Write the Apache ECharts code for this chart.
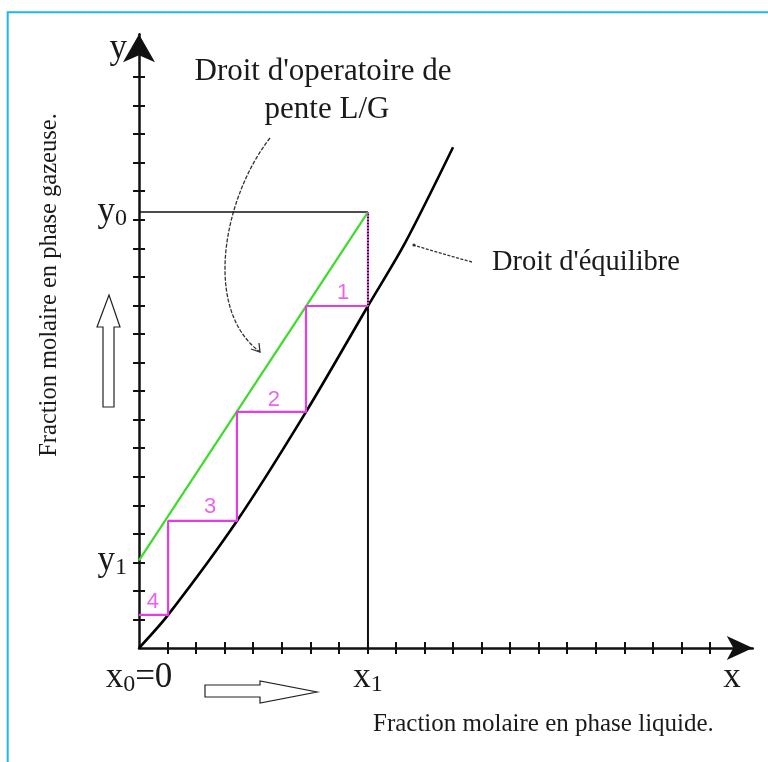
<!DOCTYPE html>
<html>
<head>
<meta charset="utf-8">
<script src="https://cdn.jsdelivr.net/npm/echarts@6/dist/echarts.min.js"></script>
<style>
html,body{margin:0;padding:0;background:#fff;}
#chart{width:768px;height:762px;}
</style>
</head>
<body>
<div id="chart"></div>
<script>
// ---- data (in tick units) ----
const xTicks = [1,2,3,4,5,6,7,8,9,10,11,12,13,14,15,16,17,18,19,20];
const yTicks = [1,2,3,4,5,6,7,8,9,10,11,12,13,14,15,16,17,18,19,20];
const xLabelPos = [0, 8.02, 20.77];
const xLabels = ['{m|x}{s|0}{m|=0}', '{m|x}{s|1}', '{m|x}'];
const yLabelPos = [3.07, 15.27, 21];
const yLabels = ['{m|y}{s|1}', '{m|y}{s|0}', '{m|y}'];

const x1 = 8.02;
const y0 = 15.27;
const y1 = 3.07;

const eqX = [0, 1.02, 3.43, 5.85, 8.02, 9.32, 11.0];
const eqY = [0, 1.16, 4.45, 8.27, 11.98, 14.19, 17.54];

const stairX = [8.02, 5.85, 5.85, 3.43, 3.43, 1.02, 1.02, 0];
const stairY = [11.98, 11.98, 8.27, 8.27, 4.45, 4.45, 1.16, 1.16];

const stepLblX = [7.15, 4.72, 2.49, 0.49];
const stepLblY = [12.43, 8.69, 4.94, 1.61];
const stepLbl = ['1', '2', '3', '4'];

// ---- chart ----
const zip = (a, b) => a.map((v, i) => [v, b[i]]);
const SERIF = '"Liberation Serif", "Times New Roman", serif';
const TXT = '#1a1a1a';
const MAG = '#e63ce6';

const rich = {
  m: {fontSize: 35, fontFamily: SERIF, color: TXT, lineHeight: 40},
  s: {fontSize: 24, fontFamily: SERIF, color: TXT, lineHeight: 24, padding: [14, 0, 0, 0]}
};

const chart = echarts.init(document.getElementById('chart'), null, {renderer: 'canvas'});

const baseAxis = {
  type: 'value', min: 0, max: 21.5,
  splitLine: {show: false}
};

const option = {
  animation: false,
  backgroundColor: '#ffffff',
  grid: {left: 139, top: 34.2, right: 15.2, bottom: 114, containLabel: false},
  xAxis: [
    Object.assign({}, baseAxis, {
      position: 'bottom',
      axisLine: {show: true, onZero: false, symbol: ['none', 'arrow'], symbolSize: [18, 26],
        lineStyle: {color: '#111', width: 2.5}},
      axisTick: {show: true, customValues: xTicks, length: 6, lineStyle: {color: '#111', width: 2}},
      axisLabel: {show: true, customValues: xLabelPos, margin: 10, showMinLabel: true, showMaxLabel: true,
        formatter: v => { const i = xLabelPos.findIndex(p => Math.abs(p - v) < 1e-6); return i < 0 ? '' : xLabels[i]; },
        rich: rich}
    }),
    Object.assign({}, baseAxis, {
      position: 'bottom',
      axisLine: {show: false, onZero: false},
      axisTick: {show: true, inside: true, customValues: xTicks, length: 6, lineStyle: {color: '#111', width: 2}},
      axisLabel: {show: false}
    })
  ],
  yAxis: [
    Object.assign({}, baseAxis, {
      position: 'left',
      axisLine: {show: true, onZero: false, symbol: ['none', 'arrow'], symbolSize: [24, 28],
        lineStyle: {color: '#111', width: 2.5}},
      axisTick: {show: true, customValues: yTicks, length: 6, lineStyle: {color: '#111', width: 2}},
      axisLabel: {show: true, customValues: yLabelPos, margin: 12, showMinLabel: true, showMaxLabel: true,
        formatter: v => { const i = yLabelPos.findIndex(p => Math.abs(p - v) < 1e-6); return i < 0 ? '' : yLabels[i]; },
        rich: rich}
    }),
    Object.assign({}, baseAxis, {
      position: 'left',
      axisLine: {show: false, onZero: false},
      axisTick: {show: true, inside: true, customValues: yTicks, length: 6, lineStyle: {color: '#111', width: 2}},
      axisLabel: {show: false}
    })
  ],
  series: [
    { // y0 horizontal guide
      type: 'line', xAxisIndex: 0, yAxisIndex: 0, symbol: 'none',
      data: [[0, y0], [x1, y0]],
      lineStyle: {color: '#111', width: 1.6}, z: 2
    },
    { // x1 vertical guide
      type: 'line', xAxisIndex: 0, yAxisIndex: 0, symbol: 'none',
      data: [[x1, 0], [x1, y0]],
      lineStyle: {color: '#111', width: 2}, z: 2
    },
    { // equilibrium curve
      type: 'line', xAxisIndex: 0, yAxisIndex: 0, symbol: 'none', smooth: 0.3,
      data: zip(eqX, eqY),
      lineStyle: {color: '#000', width: 2.6}, z: 3
    },
    { // operating line
      type: 'line', xAxisIndex: 0, yAxisIndex: 0, symbol: 'none',
      data: [[0, y1], [x1, y0]],
      lineStyle: {color: '#3ddc2a', width: 2.2}, z: 4
    },
    { // staircase
      type: 'line', xAxisIndex: 0, yAxisIndex: 0, symbol: 'none',
      data: zip(stairX, stairY),
      lineStyle: {color: MAG, width: 2.2}, z: 5
    },
    { // dotted top vertical
      type: 'line', xAxisIndex: 0, yAxisIndex: 0, symbol: 'none',
      data: [[x1, y0], [x1, stairY[0]]],
      lineStyle: {color: MAG, width: 2, type: [2, 1]}, z: 5
    },
    { // step numbers
      type: 'scatter', xAxisIndex: 0, yAxisIndex: 0, symbolSize: 0,
      data: stepLbl.map((t, i) => ({value: [stepLblX[i], stepLblY[i]], name: t})),
      label: {show: true, position: 'inside', formatter: p => p.name,
        fontSize: 22, fontFamily: '"Liberation Sans", Arial, sans-serif', color: MAG},
      z: 6
    }
  ],
  graphic: [
    { // border
      type: 'rect', silent: true,
      shape: {x: 7.7, y: 12.3, width: 900, height: 900},
      style: {fill: 'none', stroke: '#1fb6f0', lineWidth: 2}
    },
    {
      type: 'text', silent: true,
      style: {text: "Droit d'operatoire de", x: 323, y: 72, align: 'center', verticalAlign: 'middle',
        fontSize: 31, fontFamily: SERIF, fill: TXT}
    },
    {
      type: 'text', silent: true,
      style: {text: 'pente L/G', x: 327, y: 110, align: 'center', verticalAlign: 'middle',
        fontSize: 31, fontFamily: SERIF, fill: TXT}
    },
    {
      type: 'text', silent: true,
      style: {text: "Droit d'équilibre", x: 492, y: 263, align: 'left', verticalAlign: 'middle',
        fontSize: 28.5, fontFamily: SERIF, fill: TXT}
    },
    {
      type: 'text', silent: true,
      style: {text: 'Fraction molaire en phase liquide.', x: 373, y: 724, align: 'left', verticalAlign: 'middle',
        fontSize: 25, fontFamily: SERIF, fill: TXT}
    },
    {
      type: 'text', silent: true, x: 50, y: 285, rotation: Math.PI / 2,
      style: {text: 'Fraction molaire en phase gazeuse.', x: 0, y: 0, align: 'center', verticalAlign: 'middle',
        fontSize: 24.5, fontFamily: SERIF, fill: TXT}
    },
    { // hollow up arrow
      type: 'polygon', silent: true,
      shape: {points: [[109, 295], [120, 327], [114, 327], [114, 407], [103, 407], [103, 327], [97, 327]]},
      style: {fill: '#fff', stroke: '#222', lineWidth: 1.2}
    },
    { // hollow right arrow
      type: 'polygon', silent: true,
      shape: {points: [[205, 685], [260, 685], [260, 681], [317, 692], [260, 703], [260, 697], [205, 697]]},
      style: {fill: '#fff', stroke: '#222', lineWidth: 1.2}
    },
    { // curved pointer to operating line
      type: 'bezierCurve', silent: true,
      shape: {x1: 270, y1: 138, cpx1: 225, cpy1: 195, cpx2: 201, cpy2: 308, x2: 260, y2: 352},
      style: {fill: 'none', stroke: '#333', lineWidth: 1.3, lineDash: [4, 1.5]}
    },
    {
      type: 'polyline', silent: true,
      shape: {points: [[251, 349], [260, 352], [259, 343]]},
      style: {fill: 'none', stroke: '#333', lineWidth: 1.3}
    },
    { // pointer to equilibrium curve
      type: 'bezierCurve', silent: true,
      shape: {x1: 472, y1: 262, cpx1: 450, cpy1: 256, cpx2: 430, cpy2: 250, x2: 413, y2: 245},
      style: {fill: 'none', stroke: '#333', lineWidth: 1.3, lineDash: [3, 1.5]}
    },
    {
      type: 'circle', silent: true,
      shape: {cx: 414, cy: 245, r: 1.6},
      style: {fill: '#333'}
    }
  ]
};
chart.setOption(option);
</script>
</body>
</html>
